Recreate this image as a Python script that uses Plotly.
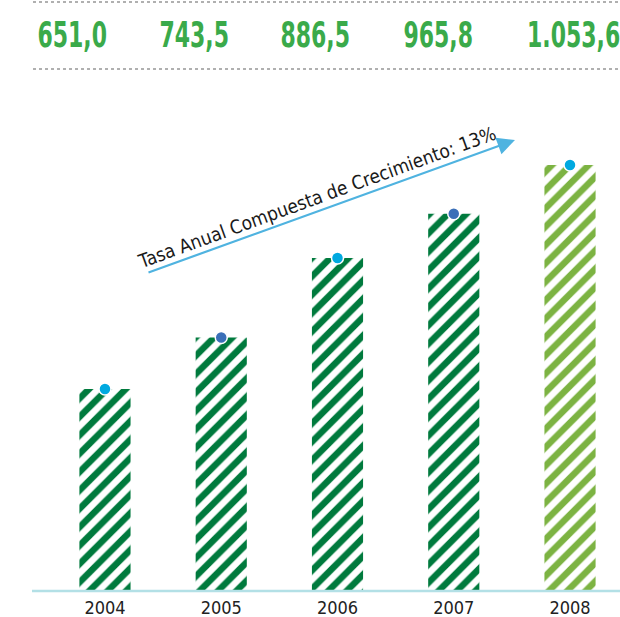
import plotly.graph_objects as go

years = ["2004", "2005", "2006", "2007", "2008"]
values = [651.0, 743.5, 886.5, 965.8, 1053.6]
value_labels = ["651,0", "743,5", "886,5", "965,8", "1.053,6"]
bar_colors = ["#007a3d", "#007a3d", "#007a3d", "#007a3d", "#7cb342"]
dot_colors = ["#00a9e0", "#3a6fb8", "#00a9e0", "#3a6fb8", "#00a9e0"]
cagr_text = "Tasa Anual Compuesta de Crecimiento: 13%"

W, H = 620, 617
FONT = "DejaVu Sans Condensed, DejaVu Sans, sans-serif"

xs = list(range(len(years)))

fig = go.Figure()
fig.add_trace(go.Bar(
    x=xs, y=values, width=0.44,
    marker=dict(
        color="white",
        line=dict(width=0),
        pattern=dict(shape="/", fgcolor=bar_colors, bgcolor="white",
                     size=13, solidity=0.5, fillmode="overlay", fgopacity=1),
    ),
    hoverinfo="skip",
))
fig.add_trace(go.Scatter(
    x=xs, y=values, mode="markers",
    marker=dict(size=12, color=dot_colors, line=dict(color="white", width=1.5)),
    cliponaxis=False, hoverinfo="skip",
))

header_px = [72, 194, 315, 438, 573]
annotations = []
for px, lab in zip(header_px, value_labels):
    annotations.append(dict(
        x=px / W, y=1 - 35 / H, xref="paper", yref="paper",
        text=f"<b>{lab}</b>", showarrow=False, xanchor="center", yanchor="middle",
        font=dict(family=FONT, size=36, color="#3aaa4a"),
    ))

# growth arrow
annotations.append(dict(
    x=515 / W, y=1 - 140 / H, xref="paper", yref="paper",
    ax=-368, ay=133, text="", showarrow=True,
    arrowhead=2, arrowsize=1.6, arrowwidth=2.2, arrowcolor="#4fb3e0", standoff=0,
))
annotations.append(dict(
    x=317 / W, y=1 - 197 / H, xref="paper", yref="paper",
    text=cagr_text, showarrow=False, textangle=-20,
    xanchor="center", yanchor="middle",
    font=dict(family=FONT, size=19, color="#1a1a1a"),
))

shapes = []
for ypx in (2, 69):
    shapes.append(dict(type="line", xref="paper", yref="paper",
                       x0=33 / W, x1=1, y0=1 - ypx / H, y1=1 - ypx / H,
                       line=dict(color="#b0b0b0", width=2, dash="dot")))
shapes.append(dict(type="line", xref="paper", yref="paper",
                   x0=32 / W, x1=1, y0=26 / H, y1=26 / H,
                   line=dict(color="#b3e0e6", width=2.5)))

fig.update_layout(
    width=W, height=H,
    margin=dict(l=0, r=0, t=0, b=0),
    paper_bgcolor="white", plot_bgcolor="white",
    showlegend=False,
    annotations=annotations, shapes=shapes,
    xaxis=dict(range=[-0.903, 4.43], domain=[0, 1], automargin=False,
               tickvals=xs, ticktext=years, showgrid=False, zeroline=False,
               showline=False, ticks="", ticklabelstandoff=4,
               tickfont=dict(family=FONT, size=18, color="#222222")),
    yaxis=dict(range=[288, 1350], domain=[26 / H, 1], visible=False,
               automargin=False, showgrid=False, zeroline=False),
)

# condense the header figures horizontally (they use a narrow display face)
post = """
var gd = document.getElementById('{plot_id}');
function squeeze(){
  gd.querySelectorAll('g.annotation').forEach(function(g){
    var i = parseInt(g.getAttribute('data-index'));
    if (isNaN(i) || i >= 5) return;
    g.querySelectorAll('text').forEach(function(t){
      if (t.getAttribute('data-sq')) return;
      var b = t.getBBox(); var cx = b.x + b.width / 2;
      var tr = t.getAttribute('transform') || '';
      t.setAttribute('transform', tr + ' translate(' + cx + ',0) scale(0.68,1) translate(' + (-cx) + ',0)');
      t.setAttribute('data-sq', '1');
    });
  });
}
squeeze();
gd.on('plotly_afterplot', squeeze);
"""

fig.write_html("out.html", post_script=post)
